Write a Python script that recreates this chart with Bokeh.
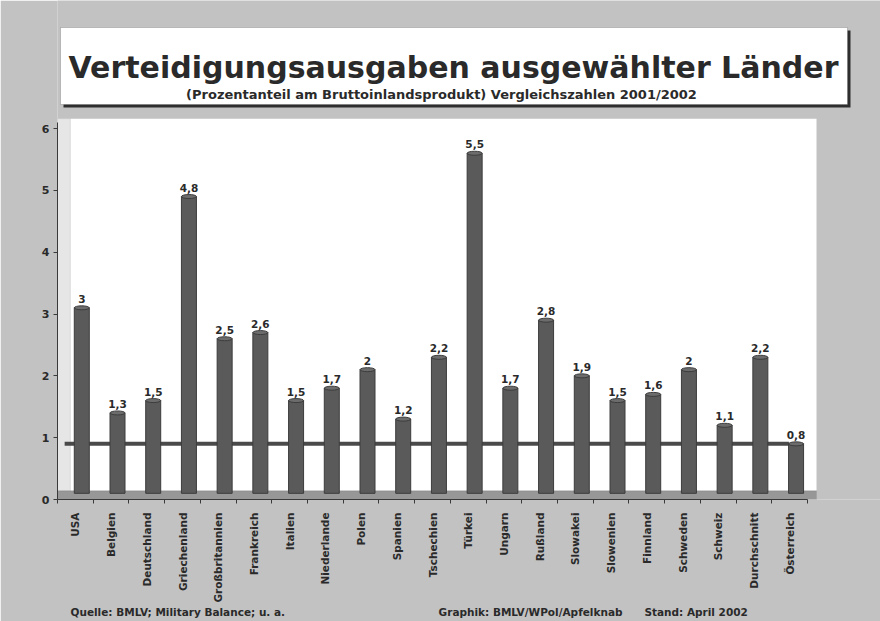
import math
from bokeh.plotting import figure
from bokeh.models import (ColumnDataSource, Range1d, FixedTicker, LinearAxis,
                          BoxAnnotation, Label, Title)
from bokeh.core.properties import value
from bokeh.embed import file_html
from bokeh.resources import INLINE

# ---------------- data ----------------
countries = ["USA", "Belgien", "Deutschland", "Griechenland", "Großbritannien",
             "Frankreich", "Italien", "Niederlande", "Polen", "Spanien",
             "Tschechien", "Türkei", "Ungarn", "Rußland", "Slowakei",
             "Slowenien", "Finnland", "Schweden", "Schweiz", "Durchschnitt",
             "Österreich"]
shares = [3, 1.3, 1.5, 4.8, 2.5, 2.6, 1.5, 1.7, 2, 1.2, 2.2, 5.5, 1.7, 2.8,
          1.9, 1.5, 1.6, 2, 1.1, 2.2, 0.8]
y_ticks = [0, 1, 2, 3, 4, 5, 6]
reference_value = shares[countries.index("Österreich")]

title_text = "Verteidigungsausgaben ausgewählter Länder"
subtitle_text = "(Prozentanteil am Bruttoinlandsprodukt) Vergleichszahlen 2001/2002"
source_text = "Quelle: BMLV; Military Balance; u. a."
graphic_text = "Graphik: BMLV/WPol/Apfelknab"
stand_text = "Stand: April 2002"

# ---------------- style / layout ----------------
BG = "#c2c2c2"
BAR = "#5a5a5a"
BAR_LINE = "#3c3c3c"
TXT = "#2a2a2a"
FONT = "DejaVu Sans"
W, H = 880, 621
LEFT, BOTTOM = 57, 122          # borders around the frame (px)
SLOT = 750 / 21                 # px per category slot
PXU = 61.83                     # px per value unit
WALL_TOP = 6.16                 # top of the white back wall (value units)
WALL_RIGHT = -0.5 + 759 / SLOT  # right edge of the white back wall (slots)
DEPTH = 0.1                     # 3D depth: vertical shift of back plane
DODGE = 0.18                    # 3D depth: horizontal shift of back plane

n = len(countries)
idx = list(range(n))
bar_x = [i + DODGE for i in idx]
bar_bottom = [DEPTH] * n
bar_top = [v + DEPTH for v in shares]
labels = [("%g" % v).replace(".", ",") for v in shares]

src = ColumnDataSource(dict(x=bar_x, bottom=bar_bottom, top=bar_top, lab=labels))

frame_h = H - BOTTOM
p = figure(width=W, height=H,
           x_range=Range1d(-0.5, -0.5 + (W - LEFT) / SLOT),
           y_range=Range1d(0, frame_h / PXU), output_backend="svg",
           toolbar_location=None, min_border_left=LEFT, min_border_right=0,
           min_border_top=0, min_border_bottom=BOTTOM,
           x_axis_type=None, y_axis_type=None)
p.grid.visible = False
p.outline_line_color = None
p.background_fill_color = BG
p.border_fill_color = BG

# ---- title box (canvas pixel units) ----
def canvas_box(l, r, t, b, **kw):
    return BoxAnnotation(left=l, right=r, top=t, bottom=b,
                         left_units="canvas", right_units="canvas",
                         top_units="canvas", bottom_units="canvas",
                         level="underlay", **kw)

p.add_layout(canvas_box(63, 850, 30, 107, fill_color="#2e2e2e", fill_alpha=1,
                        line_color=None))
p.add_layout(canvas_box(60, 847, 27, 104, fill_color="white", fill_alpha=1,
                        line_color="#555555", line_width=1))
p.add_layout(Label(x=453, y=67, x_units="canvas", y_units="canvas",
                   text=title_text, text_align="center",
                   text_baseline="alphabetic", text_font=FONT,
                   text_font_style="bold", text_font_size="30px",
                   text_color=TXT))
p.add_layout(Label(x=441, y=94, x_units="canvas", y_units="canvas",
                   text=subtitle_text, text_align="center",
                   text_baseline="alphabetic", text_font=FONT,
                   text_font_style="bold", text_font_size="13px",
                   text_color=TXT))

# ---- back wall, 3D side wall and floor ----
p.add_layout(BoxAnnotation(left=-0.5, right=WALL_RIGHT, bottom=0, top=WALL_TOP,
                           fill_color="white", fill_alpha=1, line_color=None,
                           level="underlay"))
p.add_layout(BoxAnnotation(left=-0.5, right=-0.5 + DODGE * 2, bottom=0,
                           top=WALL_TOP, fill_color="#e6e6e6", fill_alpha=1,
                           line_color="#b0b0b0", line_width=1, level="underlay"))
p.add_layout(BoxAnnotation(left=-0.5, right=WALL_RIGHT, bottom=0,
                           top=DEPTH * 1.4, fill_color="#979797", fill_alpha=1,
                           line_color="#707070", line_width=1, level="underlay"))

# reference line (value of Österreich)
p.line(x=[-0.3, bar_x[-1] - 0.2], y=[reference_value + DEPTH] * 2,
       line_color="#4a4a4a", line_width=4)

p.vbar(x="x", bottom="bottom", top="top", width=0.42, source=src,
       fill_color=BAR, line_color=BAR_LINE, line_width=1)
p.ellipse(x="x", y="top", width=0.42, height=4, height_units="screen",
          source=src, fill_color="#6c6c6c", line_color=BAR_LINE, line_width=1)

p.text(x="x", y="top", text="lab", source=src, text_align="center",
       text_baseline="bottom", y_offset=-5, text_font=value(FONT),
       text_font_style="bold", text_font_size="10.5px", text_color=TXT)

yax = LinearAxis(ticker=FixedTicker(ticks=y_ticks), bounds=(0, 6.1))
yax.axis_line_color = "#3a3a3a"
yax.major_tick_line_color = "#3a3a3a"
yax.major_tick_out = 4
yax.major_tick_in = 0
yax.minor_tick_line_color = None
yax.major_label_text_font = FONT
yax.major_label_text_font_style = "bold"
yax.major_label_text_font_size = "11px"
yax.major_label_text_color = TXT
yax.major_label_standoff = 4
p.add_layout(yax, "left")

xax = LinearAxis(ticker=FixedTicker(ticks=idx,
                                    minor_ticks=[i - 0.5 for i in idx] + [n - 0.5]),
                 bounds=(-0.5, n - 0.5))
xax.major_label_overrides = {i: c for i, c in zip(idx, countries)}
xax.major_label_orientation = math.pi / 2
xax.axis_line_color = "#3a3a3a"
xax.major_tick_line_color = None
xax.major_tick_out = 0
xax.minor_tick_line_color = "#3a3a3a"
xax.minor_tick_out = 4
xax.minor_tick_in = 0
xax.major_label_text_font = FONT
xax.major_label_text_font_style = "bold"
xax.major_label_text_font_size = "10.5px"
xax.major_label_text_color = TXT
xax.major_label_standoff = 9
p.add_layout(xax, "below")

# ---- footer line below the axis ----
NB = "\u00a0"
footer = source_text + NB * 42 + graphic_text + NB * 6 + stand_text
p.add_layout(Title(text=footer, align="left", offset=13, standoff=-4,
                   text_font=FONT, text_font_style="bold",
                   text_font_size="10.5px", text_color=TXT), "below")

open("out.html", "w").write(file_html(p, INLINE))
